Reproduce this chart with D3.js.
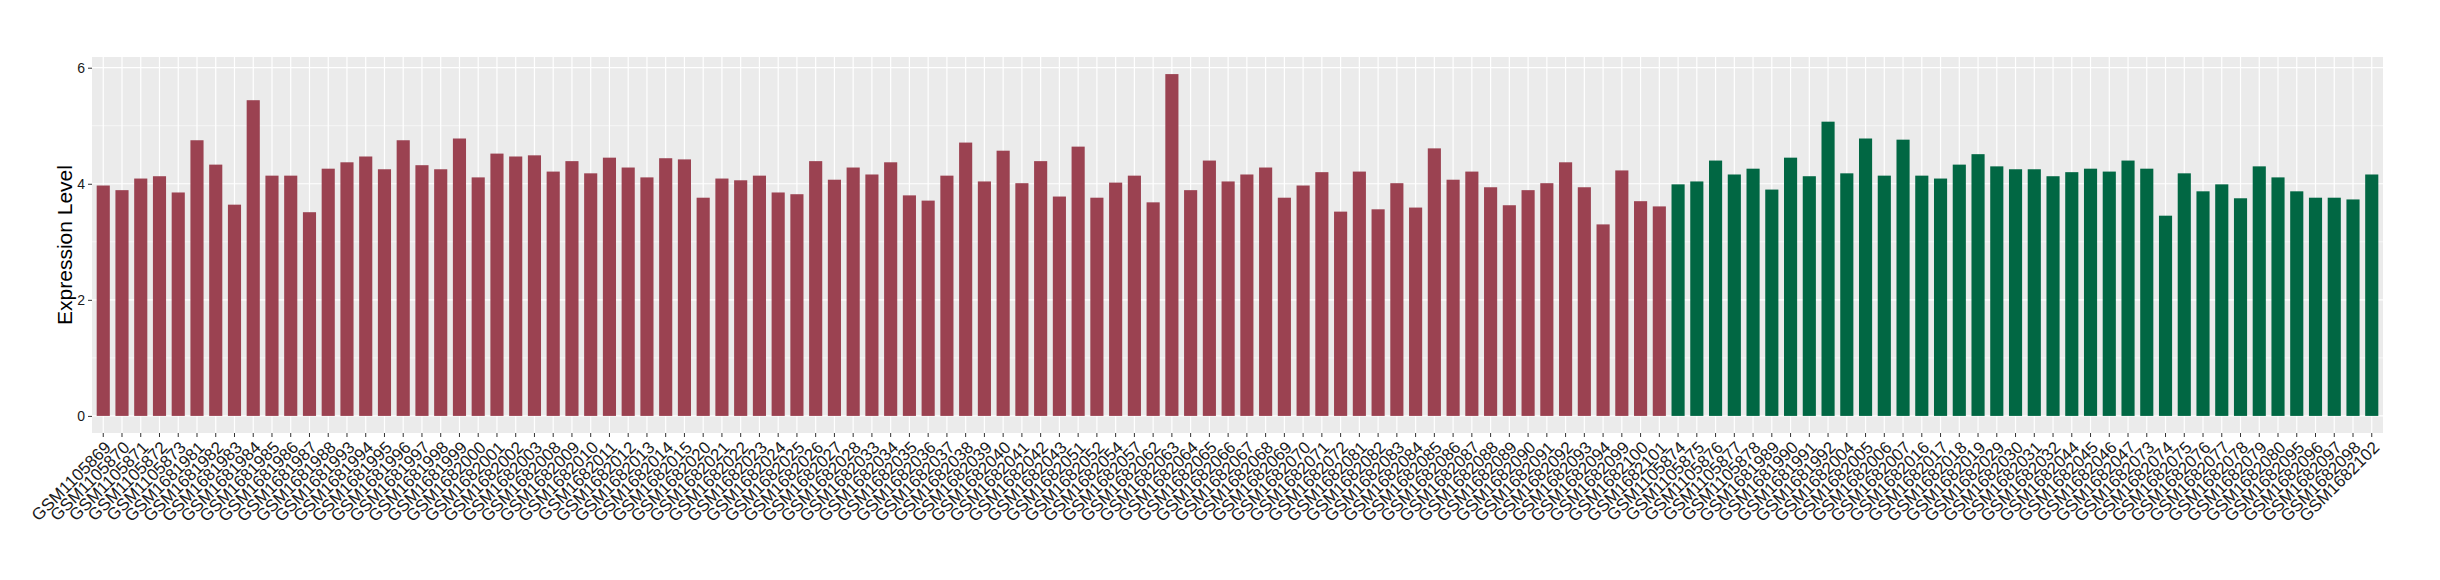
<!DOCTYPE html>
<html>
<head>
<meta charset="utf-8">
<script src="https://cdn.jsdelivr.net/npm/d3@7"></script>
<style>
  body { margin: 0; background: white; }
  text { font-family: "Liberation Sans", Arial, sans-serif; }
</style>
</head>
<body>
<script>
// samples in the first (red) group, in plotting order
var groupOneSamples = [
    "GSM1105869", "GSM1105870", "GSM1105871", "GSM1105872", "GSM1105873",
    "GSM1681981", "GSM1681982", "GSM1681983", "GSM1681984", "GSM1681985",
    "GSM1681986", "GSM1681987", "GSM1681988", "GSM1681993", "GSM1681994",
    "GSM1681995", "GSM1681996", "GSM1681997", "GSM1681998", "GSM1681999",
    "GSM1682000", "GSM1682001", "GSM1682002", "GSM1682003", "GSM1682008",
    "GSM1682009", "GSM1682010", "GSM1682011", "GSM1682012", "GSM1682013",
    "GSM1682014", "GSM1682015", "GSM1682020", "GSM1682021", "GSM1682022",
    "GSM1682023", "GSM1682024", "GSM1682025", "GSM1682026", "GSM1682027",
    "GSM1682028", "GSM1682033", "GSM1682034", "GSM1682035", "GSM1682036",
    "GSM1682037", "GSM1682038", "GSM1682039", "GSM1682040", "GSM1682041",
    "GSM1682042", "GSM1682043", "GSM1682051", "GSM1682052", "GSM1682054",
    "GSM1682057", "GSM1682062", "GSM1682063", "GSM1682064", "GSM1682065",
    "GSM1682066", "GSM1682067", "GSM1682068", "GSM1682069", "GSM1682070",
    "GSM1682071", "GSM1682072", "GSM1682081", "GSM1682082", "GSM1682083",
    "GSM1682084", "GSM1682085", "GSM1682086", "GSM1682087", "GSM1682088",
    "GSM1682089", "GSM1682090", "GSM1682091", "GSM1682092", "GSM1682093",
    "GSM1682094", "GSM1682099", "GSM1682100", "GSM1682101"
];
var groupOneValues = [
    3.97, 3.89, 4.09, 4.13, 3.85, 4.75, 4.33, 3.64, 5.44, 4.14,
    4.14, 3.51, 4.26, 4.37, 4.47, 4.25, 4.75, 4.32, 4.25, 4.78,
    4.11, 4.52, 4.47, 4.49, 4.21, 4.39, 4.18, 4.45, 4.28, 4.11,
    4.44, 4.42, 3.76, 4.09, 4.06, 4.14, 3.85, 3.82, 4.39, 4.07,
    4.28, 4.16, 4.37, 3.80, 3.71, 4.14, 4.71, 4.04, 4.57, 4.01,
    4.39, 3.78, 4.64, 3.76, 4.02, 4.14, 3.68, 5.89, 3.89, 4.40,
    4.04, 4.16, 4.28, 3.76, 3.97, 4.20, 3.52, 4.21, 3.56, 4.01,
    3.59, 4.61, 4.07, 4.21, 3.94, 3.63, 3.89, 4.01, 4.37, 3.94,
    3.30, 4.23, 3.70, 3.61
];

// samples in the second (green) group
var groupTwoSamples = [
    "GSM1105874", "GSM1105875", "GSM1105876", "GSM1105877", "GSM1105878",
    "GSM1681989", "GSM1681990", "GSM1681991", "GSM1681992", "GSM1682004",
    "GSM1682005", "GSM1682006", "GSM1682007", "GSM1682016", "GSM1682017",
    "GSM1682018", "GSM1682019", "GSM1682029", "GSM1682030", "GSM1682031",
    "GSM1682032", "GSM1682044", "GSM1682045", "GSM1682046", "GSM1682047",
    "GSM1682073", "GSM1682074", "GSM1682075", "GSM1682076", "GSM1682077",
    "GSM1682078", "GSM1682079", "GSM1682080", "GSM1682095", "GSM1682096",
    "GSM1682097", "GSM1682098", "GSM1682102"
];
var groupTwoValues = [
    3.99, 4.04, 4.40, 4.16, 4.26, 3.90, 4.45, 4.13, 5.07, 4.18,
    4.78, 4.14, 4.76, 4.14, 4.09, 4.33, 4.51, 4.30, 4.25, 4.25,
    4.13, 4.20, 4.26, 4.21, 4.40, 4.26, 3.45, 4.18, 3.87, 3.99,
    3.75, 4.30, 4.11, 3.87, 3.76, 3.76, 3.73, 4.16
];

var yTicks = [0, 2, 4, 6];
var yMinorTicks = [1, 3, 5];
var groupColors = ["#9b4251", "#016743"];

const WIDTH = 2440;
const HEIGHT = 580;
const panel = { left: 92, right: 2383, top: 57, bottom: 433 };

// one row per bar
var bars = groupOneSamples.map((s, i) => ({ sample: s, value: groupOneValues[i], group: 0 }))
    .concat(groupTwoSamples.map((s, i) => ({ sample: s, value: groupTwoValues[i], group: 1 })));

var svgContainer = d3.select("body")
    .append("svg")
    .attr("width", WIDTH)
    .attr("height", HEIGHT);

var x = d3.scaleBand()
    .domain(bars.map(d => d.sample))
    .range([panel.left, panel.right])
    .paddingInner(0.3)
    .paddingOuter(0.25);

// ggplot style: 5% expansion on both ends
var maxVal = d3.max(bars, d => d.value);
var y = d3.scaleLinear()
    .domain([-0.05 * maxVal, maxVal * 1.05])
    .range([panel.bottom, panel.top]);

// grey panel
svgContainer.append("rect")
    .attr("x", panel.left)
    .attr("y", panel.top)
    .attr("width", panel.right - panel.left)
    .attr("height", panel.bottom - panel.top)
    .attr("fill", "#ebebeb");

var grid = svgContainer.append("g");

grid.selectAll(".minor")
    .data(yMinorTicks)
    .enter()
    .append("line")
    .attr("x1", panel.left)
    .attr("x2", panel.right)
    .attr("y1", d => y(d))
    .attr("y2", d => y(d))
    .attr("stroke", "white")
    .attr("stroke-width", 0.6);

grid.selectAll(".major")
    .data(yTicks)
    .enter()
    .append("line")
    .attr("x1", panel.left)
    .attr("x2", panel.right)
    .attr("y1", d => y(d))
    .attr("y2", d => y(d))
    .attr("stroke", "white")
    .attr("stroke-width", 1.2);

grid.selectAll(".vert")
    .data(bars)
    .enter()
    .append("line")
    .attr("x1", d => x(d.sample) + x.bandwidth() / 2)
    .attr("x2", d => x(d.sample) + x.bandwidth() / 2)
    .attr("y1", panel.top)
    .attr("y2", panel.bottom)
    .attr("stroke", "white")
    .attr("stroke-width", 1.2);

svgContainer.append("g")
    .selectAll("rect")
    .data(bars)
    .enter()
    .append("rect")
    .attr("x", d => x(d.sample))
    .attr("width", x.bandwidth())
    .attr("y", d => y(d.value))
    .attr("height", d => y(0) - y(d.value))
    .attr("fill", d => groupColors[d.group]);

// y axis
var yAxis = svgContainer.append("g")
    .attr("transform", "translate(" + panel.left + ",0)")
    .call(d3.axisLeft(y).tickValues(yTicks).tickFormat(d3.format("d")).tickSize(4).tickPadding(3));
yAxis.select(".domain").remove();
yAxis.selectAll("line").attr("stroke", "#333333");
yAxis.selectAll("text")
    .attr("fill", "#1a1a1a")
    .style("font-size", "14px")
    .style("font-family", "Liberation Sans, Arial, sans-serif");

// x axis, labels turned 45 degrees
var xAxis = svgContainer.append("g")
    .attr("transform", "translate(0," + panel.bottom + ")")
    .call(d3.axisBottom(x).tickSize(4).tickPadding(0));
xAxis.select(".domain").remove();
xAxis.selectAll("line").attr("stroke", "#333333");
xAxis.selectAll("text")
    .attr("fill", "#1a1a1a")
    .style("font-size", "17px")
    .style("font-family", "Liberation Sans, Arial, sans-serif")
    .attr("text-anchor", "end")
    .attr("y", 0)
    .attr("dy", "0.72em")
    .attr("transform", "translate(0,7) rotate(-45)");

svgContainer.append("text")
    .attr("transform", "translate(65," + ((panel.top + panel.bottom) / 2) + ") rotate(-90)")
    .attr("text-anchor", "middle")
    .attr("dy", "0.35em")
    .style("font-size", "21px")
    .attr("fill", "black")
    .text("Expression Level");
</script>
</body>
</html>
